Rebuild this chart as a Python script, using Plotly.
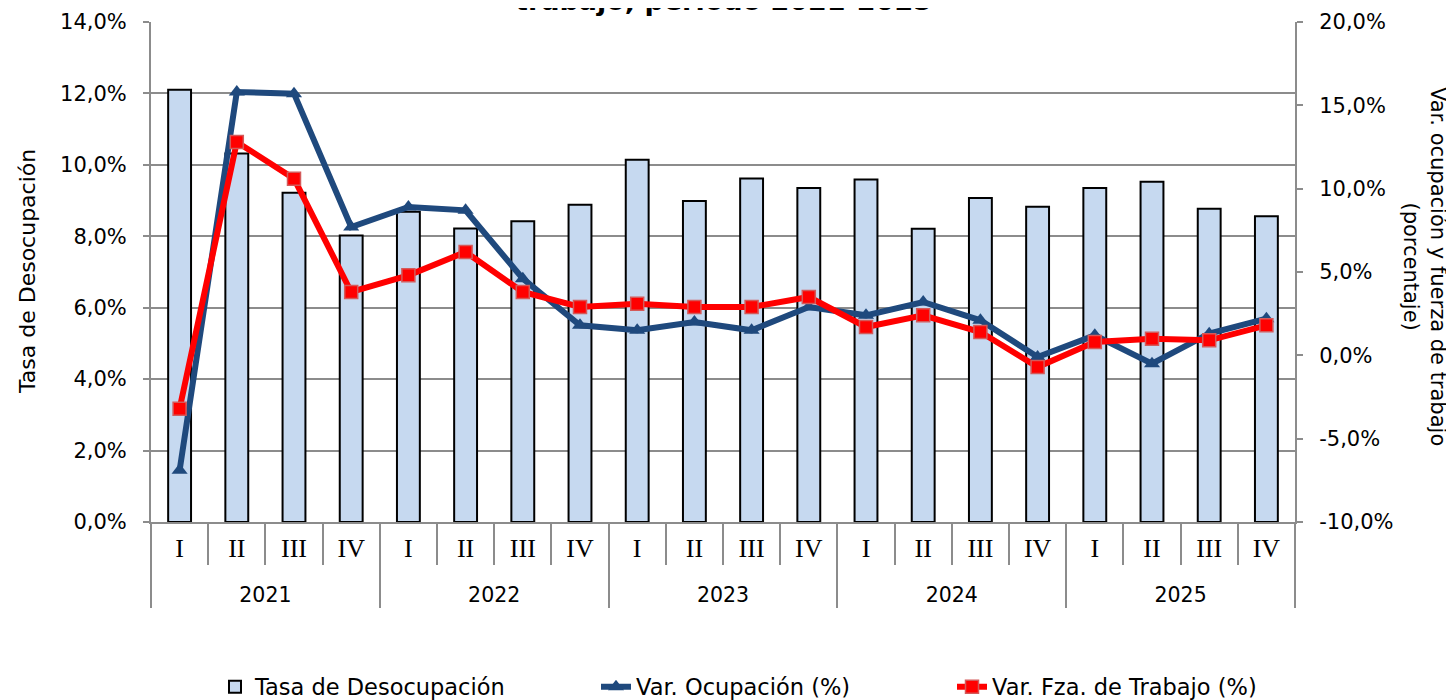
import plotly.graph_objects as go

# ---- data ----
years = ["2021", "2022", "2023", "2024", "2025"]
quarters = ["I", "II", "III", "IV"]
desocupacion = [12.10, 10.32, 9.22, 8.02, 8.69, 8.22, 8.42, 8.88, 10.14, 8.99,
                9.62, 9.35, 9.59, 8.21, 9.07, 8.83, 9.35, 9.53, 8.77, 8.56]
var_ocupacion = [-6.9, 15.8, 15.7, 7.7, 8.9, 8.7, 4.6, 1.8, 1.5, 2.0,
                 1.5, 2.9, 2.4, 3.2, 2.1, -0.1, 1.2, -0.5, 1.3, 2.2]
var_fza_trabajo = [-3.2, 12.8, 10.6, 3.8, 4.8, 6.2, 3.8, 2.9, 3.1, 2.9,
                   2.9, 3.5, 1.7, 2.4, 1.4, -0.7, 0.8, 1.0, 0.9, 1.8]

left_ticks = [0, 2, 4, 6, 8, 10, 12, 14]
right_ticks = [-10, -5, 0, 5, 10, 15, 20]


def pct(v):
    return f"{v:.1f}%".replace(".", ",")


FONT = "DejaVu Sans"
GRID = "#8c8c8c"

# page is offset by the 8px body margin -> figure coords = page coords - 8
W, H = 1446, 692
L, T = 143, 14
PW, PH = 1144, 500
R = W - L - PW
B = H - T - PH

PAD = '<span style="font-size:44px">\u00a0</span>'
x_outer = [y for y in years for _ in quarters]
x_inner = [f'{PAD}<span style="font-family:Liberation Serif;font-size:26px">{q}</span>{PAD}'
           for _ in years for q in quarters]
x = [x_outer, x_inner]

fig = go.Figure()
fig.add_trace(go.Bar(
    x=x, y=desocupacion, name="Tasa de Desocupación",
    marker=dict(color="#c6d9f0", line=dict(color="#000000", width=2)),
    yaxis="y", legend="legend",
))
fig.add_trace(go.Scatter(
    x=x, y=var_ocupacion, name="Var. Ocupación (%)", mode="lines+markers",
    line=dict(color="#1f497d", width=6),
    marker=dict(symbol="triangle-up", size=14, color="#1f497d"),
    yaxis="y2", legend="legend2",
))
fig.add_trace(go.Scatter(
    x=x, y=var_fza_trabajo, name="Var. Fza. de Trabajo (%)", mode="lines+markers",
    line=dict(color="#ff0000", width=6),
    marker=dict(symbol="square", size=13, color="#ff0000",
                line=dict(color="#d45a5a", width=1.5)),
    yaxis="y2", legend="legend3",
))


def leg(text_page_x):
    origin = text_page_x - 8 - 40
    return dict(orientation="h", x=(origin - L) / PW, xanchor="left",
                yref="container", y=1 - (687 - 8) / H, yanchor="middle",
                font=dict(family=FONT, size=22.5), bgcolor="rgba(0,0,0,0)")


fig.update_layout(
    width=W, height=H,
    margin=dict(l=L, r=R, t=T, b=B, pad=0),
    paper_bgcolor="white", plot_bgcolor="white",
    font=dict(family=FONT, size=21, color="#000000"),
    bargap=0.6,
    showlegend=True,
    legend=leg(255), legend2=leg(636), legend3=leg(992),
    xaxis=dict(
        type="multicategory", range=[-0.5, 19.5], automargin=False,
        showline=True, linecolor=GRID, linewidth=2,
        ticks="outside", tickson="boundaries", ticklen=41, tickcolor=GRID, tickwidth=1.5,
        showdividers=True, dividercolor=GRID, dividerwidth=1.5,
        tickangle=0, ticklabelstandoff=8,
        tickfont=dict(family=FONT, size=20.5), showgrid=False,
    ),
    yaxis=dict(
        range=[0, 14], tickvals=left_ticks, ticktext=[pct(v) for v in left_ticks],
        automargin=False,
        showgrid=True, gridcolor=GRID, gridwidth=2, zeroline=False,
        showline=True, linecolor=GRID, linewidth=2,
        ticks="outside", ticklen=6, tickcolor=GRID, tickwidth=1.5,
        ticklabelstandoff=12,
        tickfont=dict(family=FONT, size=21),
    ),
    yaxis2=dict(
        range=[-10, 20], tickvals=right_ticks,
        ticktext=[pct(v) for v in right_ticks], automargin=False,
        overlaying="y", side="right", showgrid=False, zeroline=False,
        showline=True, linecolor=GRID, linewidth=2,
        ticks="outside", ticklen=6, tickcolor=GRID, tickwidth=1.5,
        ticklabelstandoff=12,
        tickfont=dict(family=FONT, size=21),
    ),
    annotations=[
        dict(text="Tasa de Desocupación", textangle=-90, xref="paper", yref="paper",
             x=(27 - 8 - L) / PW, y=0.5, xanchor="center", yanchor="middle",
             showarrow=False, font=dict(family=FONT, size=22)),
        dict(text="Var. ocupación y fuerza de trabajo<br>(porcentaje)", textangle=90,
             xref="paper", yref="paper", x=(1425 - 8 - L) / PW, y=0.51,
             xanchor="center", yanchor="middle",
             showarrow=False, font=dict(family=FONT, size=21)),
        dict(text="<b>trabajo, período 2021-2025</b>", xref="paper", yref="paper",
             x=0.5, y=1 + (T - 10) / PH, xanchor="center", yanchor="bottom",
             showarrow=False, font=dict(family=FONT, size=27)),
    ],
)

fig.write_html("out.html")
